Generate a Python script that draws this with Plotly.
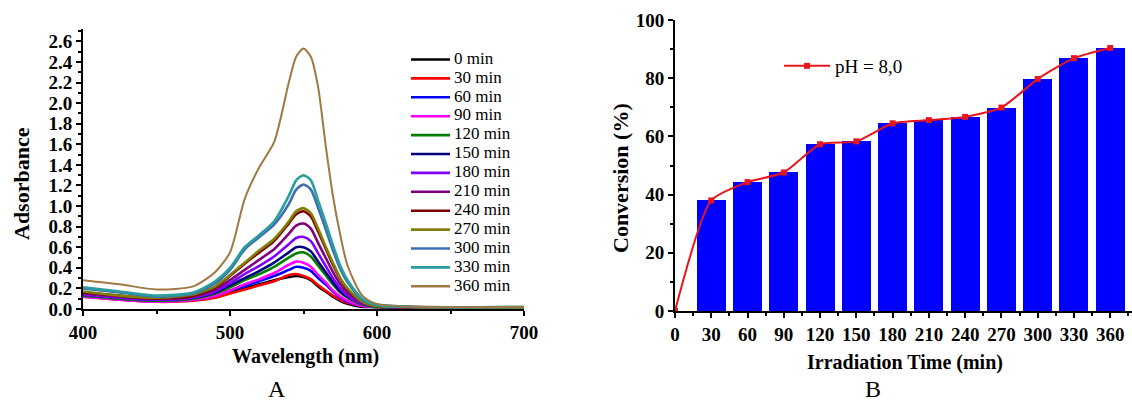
import plotly.graph_objects as go

# ---------------- Data ----------------
wavelength = [400, 425, 450, 475, 490, 500, 510, 520, 530, 540, 545, 550, 555, 560,
              565, 570, 575, 580, 590, 600, 625, 700]

series_names = ["0 min", "30 min", "60 min", "90 min", "120 min", "150 min", "180 min",
                "210 min", "240 min", "270 min", "300 min", "330 min", "360 min"]

abs_0 = [0.13, 0.10, 0.08, 0.09, 0.12, 0.16, 0.20, 0.24, 0.28, 0.31, 0.32, 0.31, 0.28, 0.22, 0.17, 0.12, 0.08, 0.05, 0.02, 0.02, 0.01, 0.01]
abs_30 = [0.12, 0.09, 0.07, 0.08, 0.11, 0.15, 0.19, 0.23, 0.27, 0.33, 0.34, 0.32, 0.29, 0.23, 0.18, 0.13, 0.09, 0.06, 0.03, 0.02, 0.01, 0.01]
abs_60 = [0.13, 0.10, 0.08, 0.09, 0.13, 0.18, 0.22, 0.27, 0.32, 0.38, 0.41, 0.40, 0.37, 0.30, 0.24, 0.17, 0.11, 0.07, 0.03, 0.02, 0.01, 0.01]
abs_90 = [0.12, 0.09, 0.07, 0.09, 0.13, 0.18, 0.24, 0.29, 0.35, 0.43, 0.46, 0.45, 0.41, 0.33, 0.26, 0.18, 0.12, 0.08, 0.03, 0.02, 0.01, 0.01]
abs_120 = [0.13, 0.10, 0.08, 0.10, 0.15, 0.21, 0.28, 0.34, 0.41, 0.50, 0.54, 0.55, 0.51, 0.42, 0.33, 0.24, 0.16, 0.11, 0.04, 0.02, 0.01, 0.01]
abs_150 = [0.14, 0.11, 0.09, 0.11, 0.16, 0.23, 0.30, 0.37, 0.45, 0.55, 0.60, 0.60, 0.56, 0.46, 0.36, 0.26, 0.17, 0.12, 0.05, 0.03, 0.01, 0.01]
abs_180 = [0.14, 0.11, 0.09, 0.11, 0.17, 0.25, 0.34, 0.42, 0.51, 0.63, 0.69, 0.70, 0.66, 0.54, 0.42, 0.30, 0.20, 0.13, 0.05, 0.03, 0.01, 0.01]
abs_210 = [0.15, 0.12, 0.10, 0.12, 0.19, 0.28, 0.38, 0.48, 0.58, 0.73, 0.81, 0.83, 0.78, 0.64, 0.50, 0.36, 0.24, 0.16, 0.06, 0.03, 0.01, 0.01]
abs_240 = [0.16, 0.13, 0.10, 0.13, 0.21, 0.32, 0.44, 0.55, 0.66, 0.83, 0.92, 0.95, 0.90, 0.75, 0.59, 0.43, 0.29, 0.19, 0.07, 0.03, 0.02, 0.01]
abs_270 = [0.17, 0.13, 0.11, 0.14, 0.22, 0.33, 0.45, 0.57, 0.68, 0.85, 0.95, 0.98, 0.93, 0.78, 0.61, 0.45, 0.30, 0.20, 0.07, 0.03, 0.02, 0.01]
abs_300 = [0.20, 0.16, 0.12, 0.15, 0.25, 0.38, 0.58, 0.70, 0.82, 1.02, 1.16, 1.21, 1.16, 0.98, 0.78, 0.57, 0.39, 0.26, 0.09, 0.04, 0.02, 0.02]
abs_330 = [0.21, 0.17, 0.13, 0.16, 0.27, 0.40, 0.60, 0.72, 0.85, 1.10, 1.25, 1.30, 1.25, 1.05, 0.84, 0.62, 0.42, 0.28, 0.10, 0.04, 0.02, 0.02]
abs_360 = [0.28, 0.24, 0.19, 0.22, 0.36, 0.55, 1.07, 1.38, 1.62, 2.20, 2.45, 2.53, 2.45, 2.15, 1.60, 1.10, 0.72, 0.42, 0.13, 0.05, 0.02, 0.02]

series_colors = ["#000000", "#FF0000", "#0000FF", "#FF00FF", "#008000", "#000080", "#8000FF",
                 "#800080", "#800000", "#808000", "#3E6FB0", "#2A9D9D", "#A07840"]

times = [0, 30, 60, 90, 120, 150, 180, 210, 240, 270, 300, 330, 360]
conversion = [0, 38.0, 44.3, 47.6, 57.3, 58.3, 64.5, 65.6, 66.7, 69.9, 79.7, 86.9, 90.4]
time_ticks = [0, 30, 60, 90, 120, 150, 180, 210, 240, 270, 300, 330, 360]

# ---------------- Figure ----------------
W, H = 1132, 401
SERIF = "Liberation Serif"


def px(x):
    return x / W


def py(y):
    return (H - y) / H


fig = go.Figure()

all_abs = [abs_0, abs_30, abs_60, abs_90, abs_120, abs_150, abs_180,
           abs_210, abs_240, abs_270, abs_300, abs_330, abs_360]
for name, vals, col in zip(series_names, all_abs, series_colors):
    fig.add_trace(go.Scatter(
        x=wavelength, y=vals, mode="lines", name=name, showlegend=False,
        line=dict(color=col, width=2.6 if name != "360 min" else 2, shape="spline", smoothing=0.7),
        xaxis="x", yaxis="y"))

# Legend of panel A (keys drawn on a hidden helper axis: one row per series)
KEY_LEN = 39
for i, (name, col) in enumerate(zip(series_names, series_colors)):
    fig.add_trace(go.Scatter(
        x=[0, KEY_LEN], y=[i, i], mode="lines", line=dict(color=col, width=2.6),
        showlegend=False, hoverinfo="skip", xaxis="x3", yaxis="y3"))
fig.add_trace(go.Scatter(
    x=[KEY_LEN + 4] * len(series_names), y=list(range(len(series_names))), mode="text",
    text=series_names, textposition="middle right", cliponaxis=False,
    textfont=dict(family=SERIF, size=17, color="black"),
    showlegend=False, hoverinfo="skip", xaxis="x3", yaxis="y3"))

# Panel B
fig.add_trace(go.Bar(
    x=times, y=conversion, width=24, marker=dict(color="#0000FF", line=dict(width=0)),
    xaxis="x2", yaxis="y2", showlegend=False))
fig.add_trace(go.Scatter(
    x=times, y=conversion, mode="lines+markers", name="pH = 8,0",
    line=dict(color="#E8161B", width=2, shape="spline", smoothing=0.6),
    marker=dict(symbol="square", size=6, color="#E8161B"),
    xaxis="x2", yaxis="y2", legend="legend2"))

axis_common = dict(showline=True, linecolor="black", linewidth=2, ticks="outside",
                   ticklen=5, tickwidth=2, tickcolor="black", showgrid=False,
                   zeroline=False)
minor_common = dict(ticks="outside", ticklen=3, tickwidth=1.5, tickcolor="black")

# helper-axis geometry for legend A rows
ROW0, ROWSTEP = 59.5, 18.9
LEG_TOP, LEG_BOT = 50, 300
y3_range = [(LEG_BOT - ROW0) / ROWSTEP, (LEG_TOP - ROW0) / ROWSTEP]


def label(text, x, y, size, bold=True, angle=0):
    return dict(text=text, x=px(x), y=py(y), xref="paper", yref="paper", showarrow=False,
                xanchor="center", yanchor="middle", textangle=angle,
                font=dict(family=SERIF, size=size, color="black",
                          weight="bold" if bold else "normal"))


fig.update_layout(
    width=W, height=H, margin=dict(l=0, r=0, t=0, b=0, autoexpand=False),
    paper_bgcolor="white", plot_bgcolor="white",
    bargap=0, showlegend=True,
    xaxis=dict(domain=[px(83), px(524)], range=[400, 700], anchor="y", dtick=100,
               minor=dict(dtick=50, **minor_common),
               tickfont=dict(family=SERIF, size=19, color="black", weight="bold"),
               **axis_common),
    yaxis=dict(domain=[py(309), py(29)], range=[0, 2.72], anchor="x", dtick=0.2, tickformat=".1f",
               minor=dict(dtick=0.1, **minor_common),
               tickfont=dict(family=SERIF, size=19, color="black", weight="bold"),
               **axis_common),
    xaxis2=dict(domain=[px(675), 1.0], range=[0, 378], anchor="y2", tickvals=time_ticks,
                minor=dict(dtick=15, **minor_common),
                tickfont=dict(family=SERIF, size=19, color="black", weight="bold"),
                **axis_common),
    yaxis2=dict(domain=[py(311), py(20)], range=[0, 100], anchor="x2", dtick=20,
                minor=dict(dtick=10, **minor_common),
                tickfont=dict(family=SERIF, size=19, color="black", weight="bold"),
                **axis_common),
    xaxis3=dict(domain=[px(411), px(540)], range=[0, 129], anchor="y3", visible=False, fixedrange=True),
    yaxis3=dict(domain=[py(LEG_BOT), py(LEG_TOP)], range=y3_range, anchor="x3", visible=False, fixedrange=True),
    legend2=dict(x=px(779), y=py(47), xanchor="left", yanchor="top", bgcolor="rgba(0,0,0,0)",
                 font=dict(family=SERIF, size=19, color="black"), itemwidth=46),
    annotations=[
        label("Adsorbance", 22, 184, 22, angle=-90),
        label("Wavelength (nm)", 305, 356, 20),
        label("A", 277, 389, 24, bold=False),
        label("Conversion (%)", 620, 178, 22, angle=-90),
        label("Irradiation Time (min)", 905, 362, 20),
        label("B", 873, 389, 24, bold=False),
    ],
)

fig.write_html("out.html")
